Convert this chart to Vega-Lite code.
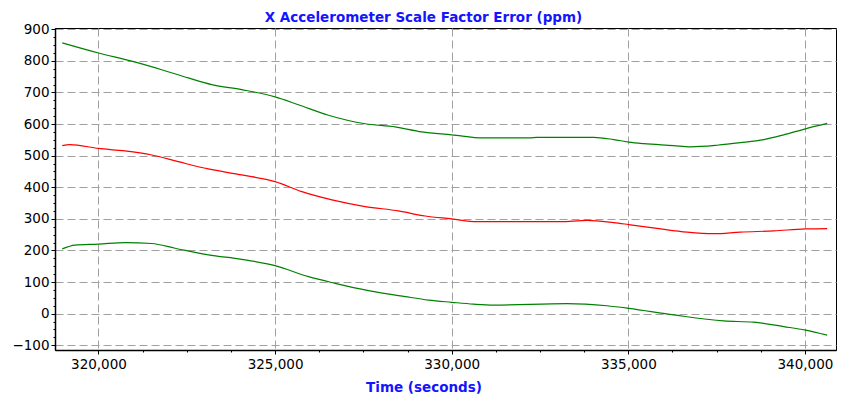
{
  "$schema": "https://vega.github.io/schema/vega-lite/v6.json",
  "autosize": "none",
  "width": 781,
  "height": 322,
  "padding": {"left": 55, "top": 28, "right": 16, "bottom": 51},
  "background": "white",
  "config": {
    "font": "DejaVu Sans",
    "view": {"stroke": "black", "strokeWidth": 1}
  },
  "title": {
    "text": "X Accelerometer Scale Factor Error (ppm)",
    "font": "DejaVu Sans",
    "fontSize": 13.5,
    "fontWeight": "bold",
    "color": "#1414ff",
    "anchor": "middle",
    "dx": -22,
    "offset": -2
  },
  "data": {
    "values": [
      {"t": 318975, "v": 857, "s": "upper"},
      {"t": 320000, "v": 825, "s": "upper"},
      {"t": 320940, "v": 799, "s": "upper"},
      {"t": 321790, "v": 772, "s": "upper"},
      {"t": 322545, "v": 746, "s": "upper"},
      {"t": 323205, "v": 725, "s": "upper"},
      {"t": 324055, "v": 709, "s": "upper"},
      {"t": 325000, "v": 686, "s": "upper"},
      {"t": 325660, "v": 661, "s": "upper"},
      {"t": 326510, "v": 628, "s": "upper"},
      {"t": 327550, "v": 601, "s": "upper"},
      {"t": 328400, "v": 591, "s": "upper"},
      {"t": 329155, "v": 575, "s": "upper"},
      {"t": 330000, "v": 566, "s": "upper"},
      {"t": 330900, "v": 556, "s": "upper"},
      {"t": 332225, "v": 556, "s": "upper"},
      {"t": 332400, "v": 558, "s": "upper"},
      {"t": 333075, "v": 558, "s": "upper"},
      {"t": 334020, "v": 558, "s": "upper"},
      {"t": 334585, "v": 551, "s": "upper"},
      {"t": 335010, "v": 543, "s": "upper"},
      {"t": 335435, "v": 538, "s": "upper"},
      {"t": 336285, "v": 532, "s": "upper"},
      {"t": 336757, "v": 528, "s": "upper"},
      {"t": 337515, "v": 533, "s": "upper"},
      {"t": 338175, "v": 541, "s": "upper"},
      {"t": 338835, "v": 551, "s": "upper"},
      {"t": 339400, "v": 566, "s": "upper"},
      {"t": 340015, "v": 585, "s": "upper"},
      {"t": 340630, "v": 602, "s": "upper"},
      {"t": 318975, "v": 532, "s": "estimate"},
      {"t": 319190, "v": 535, "s": "estimate"},
      {"t": 320000, "v": 523, "s": "estimate"},
      {"t": 320750, "v": 515, "s": "estimate"},
      {"t": 321510, "v": 502, "s": "estimate"},
      {"t": 322260, "v": 481, "s": "estimate"},
      {"t": 323110, "v": 458, "s": "estimate"},
      {"t": 324055, "v": 439, "s": "estimate"},
      {"t": 325000, "v": 418, "s": "estimate"},
      {"t": 325760, "v": 386, "s": "estimate"},
      {"t": 326610, "v": 360, "s": "estimate"},
      {"t": 327550, "v": 339, "s": "estimate"},
      {"t": 328495, "v": 325, "s": "estimate"},
      {"t": 329250, "v": 309, "s": "estimate"},
      {"t": 330000, "v": 300, "s": "estimate"},
      {"t": 330715, "v": 291, "s": "estimate"},
      {"t": 333075, "v": 291, "s": "estimate"},
      {"t": 333830, "v": 295, "s": "estimate"},
      {"t": 334585, "v": 288, "s": "estimate"},
      {"t": 335010, "v": 282, "s": "estimate"},
      {"t": 335815, "v": 270, "s": "estimate"},
      {"t": 336665, "v": 258, "s": "estimate"},
      {"t": 337420, "v": 253, "s": "estimate"},
      {"t": 338175, "v": 258, "s": "estimate"},
      {"t": 339120, "v": 262, "s": "estimate"},
      {"t": 340015, "v": 268, "s": "estimate"},
      {"t": 340630, "v": 269, "s": "estimate"},
      {"t": 318975, "v": 205, "s": "lower"},
      {"t": 319335, "v": 217, "s": "lower"},
      {"t": 320000, "v": 220, "s": "lower"},
      {"t": 320750, "v": 225, "s": "lower"},
      {"t": 321510, "v": 222, "s": "lower"},
      {"t": 322170, "v": 207, "s": "lower"},
      {"t": 323110, "v": 186, "s": "lower"},
      {"t": 324055, "v": 172, "s": "lower"},
      {"t": 325000, "v": 152, "s": "lower"},
      {"t": 325945, "v": 117, "s": "lower"},
      {"t": 326700, "v": 96, "s": "lower"},
      {"t": 327645, "v": 73, "s": "lower"},
      {"t": 328685, "v": 54, "s": "lower"},
      {"t": 329345, "v": 43, "s": "lower"},
      {"t": 330000, "v": 36, "s": "lower"},
      {"t": 330620, "v": 30, "s": "lower"},
      {"t": 331185, "v": 27, "s": "lower"},
      {"t": 333265, "v": 32, "s": "lower"},
      {"t": 334400, "v": 25, "s": "lower"},
      {"t": 335010, "v": 17, "s": "lower"},
      {"t": 336285, "v": -4, "s": "lower"},
      {"t": 337700, "v": -23, "s": "lower"},
      {"t": 338550, "v": -27, "s": "lower"},
      {"t": 339400, "v": -41, "s": "lower"},
      {"t": 340015, "v": -52, "s": "lower"},
      {"t": 340630, "v": -68, "s": "lower"}
    ]
  },
  "mark": {"type": "line", "strokeWidth": 1.2, "interpolate": "monotone", "clip": true},
  "encoding": {
    "x": {
      "field": "t",
      "type": "quantitative",
      "scale": {"domain": [318770, 340880], "nice": false, "zero": false},
      "axis": {
        "values": [320000, 321250, 322500, 323750, 325000, 326250, 327500, 328750, 330000, 331250, 332500, 333750, 335000, 336250, 337500, 338750, 340000],
        "labelExpr": "datum.value % 5000 === 0 ? format(datum.value, ',') : ''",
        "labelOverlap": false,
        "labelFontSize": 13.5,
        "labelColor": "black",
        "labelPadding": 3,
        "tickColor": "black",
        "tickSize": {"condition": {"test": "datum.value % 5000 !== 0", "value": 2}, "value": 4},
        "domainColor": "black",
        "domainWidth": 1.5,
        "grid": true,
        "gridColor": "#a0a0a0",
        "gridDash": [8, 4],
        "gridOpacity": {"condition": {"test": "datum.value % 5000 !== 0", "value": 0}, "value": 1},
        "title": "Time (seconds)",
        "titleFont": "DejaVu Sans",
        "titleFontSize": 13.5,
        "titleFontWeight": "bold",
        "titleColor": "#1414ff",
        "titleX": 368.5,
        "titleAlign": "center",
        "titlePadding": 10
      }
    },
    "y": {
      "field": "v",
      "type": "quantitative",
      "scale": {"domain": [-115, 904], "nice": false, "zero": false},
      "axis": {
        "values": [-100, -75, -50, -25, 0, 25, 50, 75, 100, 125, 150, 175, 200, 225, 250, 275, 300, 325, 350, 375, 400, 425, 450, 475, 500, 525, 550, 575, 600, 625, 650, 675, 700, 725, 750, 775, 800, 825, 850, 875, 900],
        "labelExpr": "datum.value % 100 === 0 ? format(datum.value, ',') : ''",
        "labelOverlap": false,
        "labelFontSize": 13.5,
        "labelColor": "black",
        "labelPadding": 2,
        "tickColor": "black",
        "tickSize": {"condition": {"test": "datum.value % 100 !== 0", "value": 2}, "value": 4},
        "domainColor": "black",
        "domainWidth": 1.5,
        "grid": true,
        "gridColor": "#a0a0a0",
        "gridDash": [8, 4],
        "gridOpacity": {"condition": {"test": "datum.value % 100 !== 0", "value": 0}, "value": 1},
        "title": null
      }
    },
    "color": {
      "field": "s",
      "type": "nominal",
      "scale": {"domain": ["upper", "estimate", "lower"], "range": ["#008000", "#ff0000", "#008000"]},
      "legend": null
    },
    "detail": {"field": "s"}
  }
}
